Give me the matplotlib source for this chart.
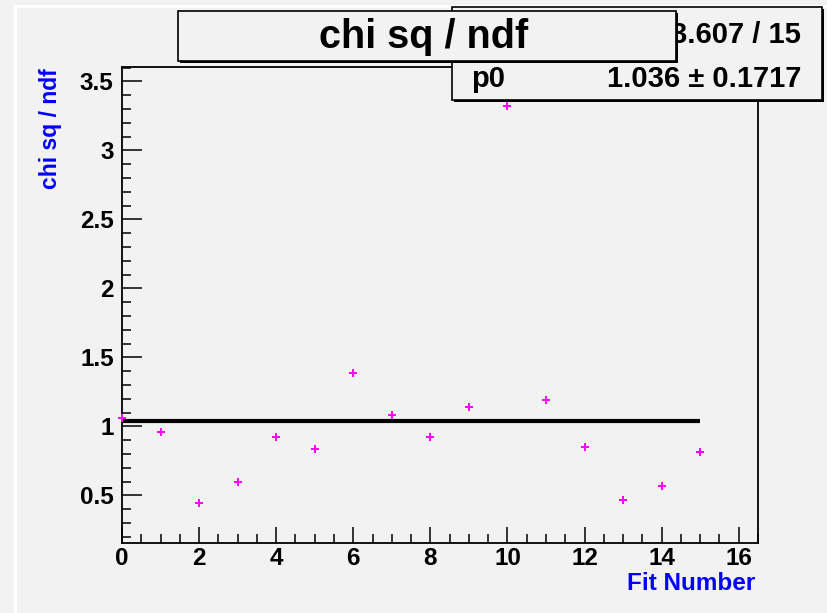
'''
Chi square / ndf of each fit, with a constant (pol0) fit through them
'''

import numpy as np
from matplotlib import pyplot as plt
from matplotlib.patches import Rectangle
from matplotlib.lines import Line2D
from matplotlib.ticker import MultipleLocator

# Data
fit_number = [0, 1, 2, 3, 4, 5, 6, 7, 8, 9, 10, 11, 12, 13, 14, 15]
chi2_ndf = [1.06, 0.96, 0.444, 0.60, 0.923, 0.839, 1.39, 1.08, 0.923, 1.14,
            3.32, 1.19, 0.853, 0.47, 0.565, 0.817]
fit_p0 = 1.036
fit_p0_err = 0.1717
fit_range = [0, 15]
stat_chi2 = "3.607 / 15"

W, H = 827, 613
bg = '#f2f2f2'
plt.rcParams['font.family'] = ['Liberation Sans', 'DejaVu Sans']
plt.rcParams['font.weight'] = 'bold'

fig = plt.figure(figsize=(W / 100, H / 100), dpi=100, facecolor=bg)

def fx(x):
    return x / W

def fy(y):
    return 1 - y / H

# white frame lines of the canvas
fig.add_artist(Line2D([fx(15), fx(15)], [fy(6), 0], color='white', lw=2.2))
fig.add_artist(Line2D([fx(15), 1], [fy(6), fy(6)], color='white', lw=2.2))

ax = fig.add_axes([fx(122), fy(543), fx(758) - fx(122), fy(67) - fy(543)])
ax.set_facecolor(bg)
ax.plot(fit_range, [fit_p0, fit_p0], color='black', lw=3, solid_capstyle='butt', zorder=2)
ax.plot(fit_number, chi2_ndf, linestyle='none', marker='P', markersize=6,
        color='#ff00ff', markeredgewidth=0, clip_on=False, zorder=3)

ax.set_xlim(0, 16.5)
ax.set_ylim(0.155, 3.605)
ax.xaxis.set_major_locator(MultipleLocator(2))
ax.xaxis.set_minor_locator(MultipleLocator(0.5))
ax.yaxis.set_major_locator(MultipleLocator(0.5))
ax.yaxis.set_minor_locator(MultipleLocator(0.1))
ax.tick_params(axis='both', which='both', direction='in', width=1.1,
               top=False, right=False, labelsize=17.5, colors='black')
ax.tick_params(axis='y', which='major', length=14.5, pad=6)
ax.tick_params(axis='y', which='minor', length=6.5)
ax.tick_params(axis='x', which='major', length=11.5, pad=3)
ax.tick_params(axis='x', which='minor', length=6.5)
ax.set_yticks([0.5, 1, 1.5, 2, 2.5, 3, 3.5])
ax.set_yticklabels(['0.5', '1', '1.5', '2', '2.5', '3', '3.5'])
for s in ax.spines.values():
    s.set_linewidth(1.3)

fig.text(fx(755), fy(583), 'Fit Number', color='#0000ff', fontsize=17.5,
         fontweight='bold', ha='right', va='center')
fig.text(fx(50), fy(68), 'chi sq / ndf', color='#0000ff', fontsize=16.5,
         fontweight='bold', rotation=90, ha='center', va='top')

# stats box
sh = 2
fig.add_artist(Rectangle((fx(452 + sh), fy(100 + sh)), fx(822 - 452), fy(7) - fy(100),
                         transform=fig.transFigure, facecolor='black', edgecolor='none', zorder=5))
fig.add_artist(Rectangle((fx(452), fy(100)), fx(822 - 452), fy(7) - fy(100),
                         transform=fig.transFigure, facecolor=bg, edgecolor='black', lw=1.2, zorder=6))
fig.text(fx(801), fy(43), stat_chi2, fontsize=21, fontweight='bold',
         ha='right', va='baseline', zorder=7)
fig.text(fx(471), fy(87), 'p0', fontsize=21, fontweight='bold',
         ha='left', va='baseline', zorder=7)
fig.text(fx(801), fy(87), '%.3f ± %.4f' % (fit_p0, fit_p0_err), fontsize=21,
         fontweight='bold', ha='right', va='baseline', zorder=7)

# title box
fig.add_artist(Rectangle((fx(178 + sh), fy(61 + sh)), fx(676 - 178), fy(11) - fy(61),
                         transform=fig.transFigure, facecolor='black', edgecolor='none', zorder=8))
fig.add_artist(Rectangle((fx(178), fy(61)), fx(676 - 178), fy(11) - fy(61),
                         transform=fig.transFigure, facecolor=bg, edgecolor='black', lw=1.2, zorder=9))
fig.text(fx(424), fy(37), 'chi sq / ndf', fontsize=28.5, fontweight='bold',
         ha='center', va='center', zorder=10)

fig.savefig('out.png', dpi=100, facecolor=bg)
